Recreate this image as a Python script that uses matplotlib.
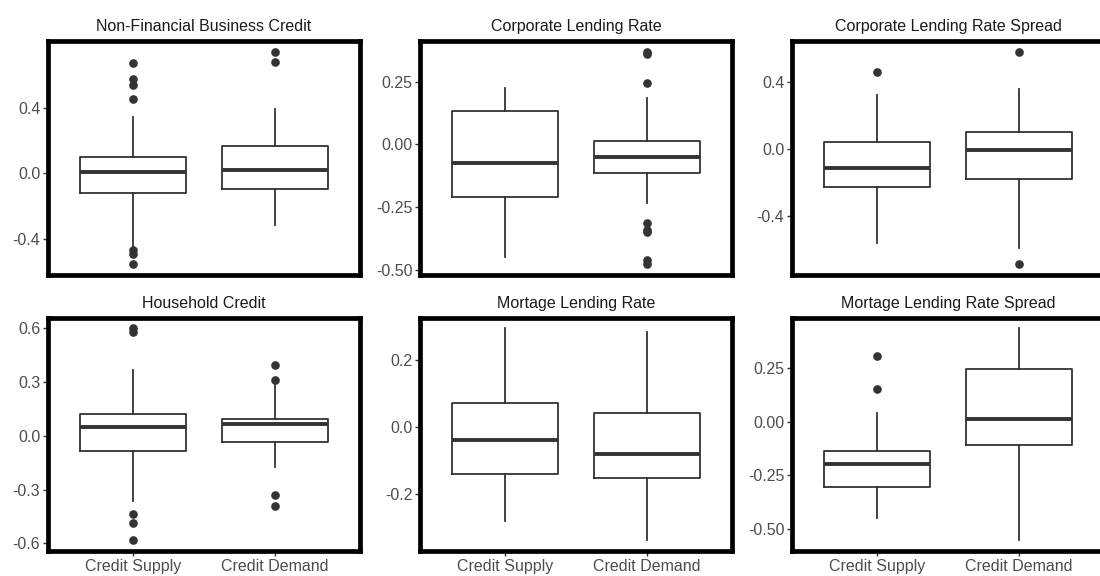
import matplotlib
matplotlib.use("Agg")
import matplotlib.pyplot as plt

plt.rcParams["font.family"] = ["Liberation Sans", "DejaVu Sans"]
plt.rcParams["axes.unicode_minus"] = False

groups = ["Credit Supply", "Credit Demand"]
titles = ["Non-Financial Business Credit", "Corporate Lending Rate",
          "Corporate Lending Rate Spread", "Household Credit",
          "Mortage Lending Rate", "Mortage Lending Rate Spread"]

# box stats per group: [q1, median, q3, lower whisker, upper whisker]
nfbc_stats = [[-0.12, 0.01, 0.10, -0.44, 0.34], [-0.092, 0.022, 0.169, -0.313, 0.39]]
nfbc_fliers = [[0.67, 0.576, 0.536, 0.45, -0.464, -0.49, -0.55], [0.74, 0.675]]

clr_stats = [[-0.208, -0.075, 0.132, -0.448, 0.226], [-0.115, -0.05, 0.013, -0.235, 0.184]]
clr_fliers = [[], [0.369, 0.358, 0.243, -0.313, -0.342, -0.35, -0.46, -0.476]]

clrs_stats = [[-0.231, -0.116, 0.041, -0.567, 0.318], [-0.181, -0.01, 0.101, -0.596, 0.358]]
clrs_fliers = [[0.456], [0.579, -0.689]]

hh_stats = [[-0.083, 0.048, 0.121, -0.366, 0.368], [-0.037, 0.064, 0.094, -0.175, 0.29]]
hh_fliers = [[0.6, 0.58, -0.436, -0.487, -0.583], [0.395, 0.309, -0.331, -0.393]]

mlr_stats = [[-0.139, -0.039, 0.072, -0.281, 0.294], [-0.151, -0.081, 0.042, -0.338, 0.281]]
mlr_fliers = [[], []]

mlrs_stats = [[-0.303, -0.197, -0.139, -0.449, 0.039], [-0.111, 0.011, 0.247, -0.554, 0.436]]
mlrs_fliers = [[0.308, 0.154], []]

nfbc_ticks = [-0.4, 0.0, 0.4]
clr_ticks = [-0.50, -0.25, 0.00, 0.25]
clrs_ticks = [-0.4, 0.0, 0.4]
hh_ticks = [-0.6, -0.3, 0.0, 0.3, 0.6]
mlr_ticks = [-0.2, 0.0, 0.2]
mlrs_ticks = [-0.50, -0.25, 0.00, 0.25]
tick_decimals = [1, 2, 1, 1, 1, 2]

panels = [
    (nfbc_stats, nfbc_fliers, nfbc_ticks),
    (clr_stats, clr_fliers, clr_ticks),
    (clrs_stats, clrs_fliers, clrs_ticks),
    (hh_stats, hh_fliers, hh_ticks),
    (mlr_stats, mlr_fliers, mlr_ticks),
    (mlrs_stats, mlrs_fliers, mlrs_ticks),
]

W, H = 1100, 576
fig = plt.figure(figsize=(W / 100, H / 100), dpi=100)
lefts = [48, 420, 792]
tops = [41, 317.5]
aw, ah = 312, 233.5

for i, (stats, fliers, ticks) in enumerate(panels):
    r, c = divmod(i, 3)
    ax = fig.add_axes([lefts[c] / W, (H - tops[r] - ah) / H, aw / W, ah / H])
    bstats = []
    for s, f, name in zip(stats, fliers, groups):
        bstats.append(dict(q1=s[0], med=s[1], q3=s[2], whislo=s[3], whishi=s[4],
                           fliers=f, label=name))
    ax.bxp(bstats, positions=[1, 2], widths=0.75, showcaps=False,
           boxprops=dict(color="#333333", linewidth=1.3),
           whiskerprops=dict(color="#333333", linewidth=1.3),
           medianprops=dict(color="#333333", linewidth=2.8, solid_capstyle="butt"),
           flierprops=dict(marker="o", markerfacecolor="#333333",
                           markeredgecolor="#333333", markersize=5.2))
    ax.set_xlim(0.4, 2.6)
    ax.margins(y=0.05)
    ax.autoscale(axis="y")
    ax.set_yticks(ticks)
    ax.set_yticklabels([f"{t:.{tick_decimals[i]}f}" for t in ticks])
    ax.tick_params(axis="y", length=3.5, width=1, color="#333333",
                   labelcolor="#4D4D4D", labelsize=11.5, pad=2)
    if r == 1:
        ax.tick_params(axis="x", length=3.5, width=1, color="#333333",
                       labelcolor="#4D4D4D", labelsize=11.5, pad=2)
    else:
        ax.tick_params(axis="x", length=0, labelbottom=False)
    for sp in ax.spines.values():
        sp.set_linewidth(3.4)
        sp.set_color("black")
    ax.set_title(titles[i], fontsize=11.5, color="#1A1A1A", pad=7)

fig.savefig("out.png", dpi=100)
